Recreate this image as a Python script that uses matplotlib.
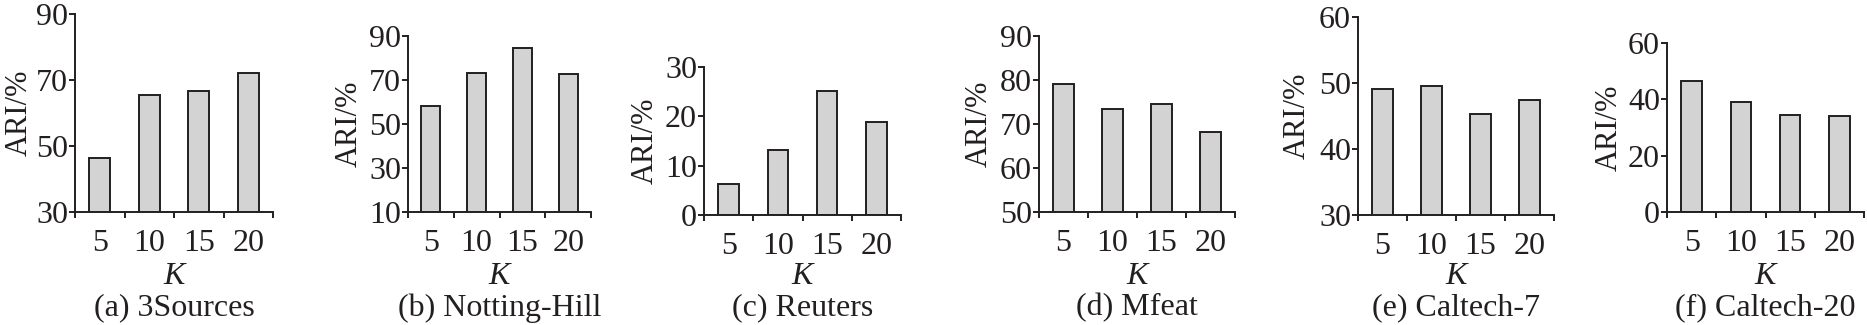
import matplotlib
matplotlib.use('Agg')
import matplotlib.pyplot as plt
from matplotlib.transforms import blended_transform_factory

# Данные ARI (%) для разных K по шести наборам данных
k_values = [5, 10, 15, 20]
ari_3sources = [46.5, 65.5, 66.8, 72.0]
ari_notting_hill = [58.0, 73.4, 84.4, 72.6]
ari_reuters = [6.2, 13.1, 25.2, 18.8]
ari_mfeat = [79.0, 73.4, 74.6, 68.2]
ari_caltech7 = [49.1, 49.6, 45.3, 47.5]
ari_caltech20 = [46.4, 39.1, 34.6, 34.1]

subtitles = ['(a) 3Sources', '(b) Notting-Hill', '(c) Reuters',
             '(d) Mfeat', '(e) Caltech-7', '(f) Caltech-20']
series = [ari_3sources, ari_notting_hill, ari_reuters,
          ari_mfeat, ari_caltech7, ari_caltech20]
y_ticks = [[30, 50, 70, 90], [10, 30, 50, 70, 90], [0, 10, 20, 30],
           [50, 60, 70, 80, 90], [30, 40, 50, 60], [0, 20, 40, 60]]

W, H = 1867, 325
# Положение осей в пикселях: левый, правый, верх, низ, базовая линия подписи оси Y
boxes = [(75, 273, 14, 212, 27),
         (408, 591, 36, 212, 357),
         (704, 901, 67, 215, 653),
         (1039, 1235, 36, 212, 987),
         (1358, 1554, 17, 215, 1305),
         (1667, 1864, 43, 212, 1617)]

ink = '#231f20'
plt.rcParams['font.family'] = ['Liberation Serif', 'DejaVu Serif']
plt.rcParams['font.size'] = 23
plt.rcParams['text.color'] = ink
plt.rcParams['axes.labelcolor'] = ink
plt.rcParams['xtick.color'] = ink
plt.rcParams['ytick.color'] = ink

fig = plt.figure(figsize=(W / 100, H / 100), dpi=100)

for i in range(6):
    left, right, top, bottom, lab_base = boxes[i]
    ax = fig.add_axes([left / W, (H - bottom) / H, (right - left) / W, (bottom - top) / H])
    x = range(len(k_values))
    ax.bar(x, series[i], width=0.42, color='#d3d3d3', edgecolor=ink, linewidth=1.4)

    ax.set_xlim(-0.5, len(k_values) - 0.5)
    ax.set_ylim(y_ticks[i][0], y_ticks[i][-1])
    ax.set_yticks(y_ticks[i])

    # Засечки на границах категорий, подписи K по центрам столбцов
    ax.set_xticks([j - 0.5 for j in range(len(k_values) + 1)])
    ax.set_xticklabels([])
    ax.set_xticks(list(x), minor=True)
    ax.set_xticklabels([str(k) for k in k_values], minor=True)
    ax.tick_params(axis='x', which='major', direction='out', length=4.5, width=1.4)
    ax.tick_params(axis='x', which='minor', length=0, pad=12)
    ax.tick_params(axis='y', direction='out', length=4.5, width=1.4, pad=0.5)

    for side in ['top', 'right']:
        ax.spines[side].set_visible(False)
    for side in ['left', 'bottom']:
        ax.spines[side].set_linewidth(1.4)
        ax.spines[side].set_color(ink)

    ax.set_ylabel('ARI/%', va='baseline', fontsize=22)
    ax.yaxis.set_label_coords((lab_base - left) / (right - left), 0.5)

    tr = blended_transform_factory(ax.transAxes, fig.transFigure)
    ax.text(0.5, (H - 277) / H, 'K', style='italic', ha='center', va='center', transform=tr)
    ax.text(0.5, (H - 308) / H, subtitles[i], ha='center', va='center', transform=tr)

fig.savefig('out.png', dpi=100)
